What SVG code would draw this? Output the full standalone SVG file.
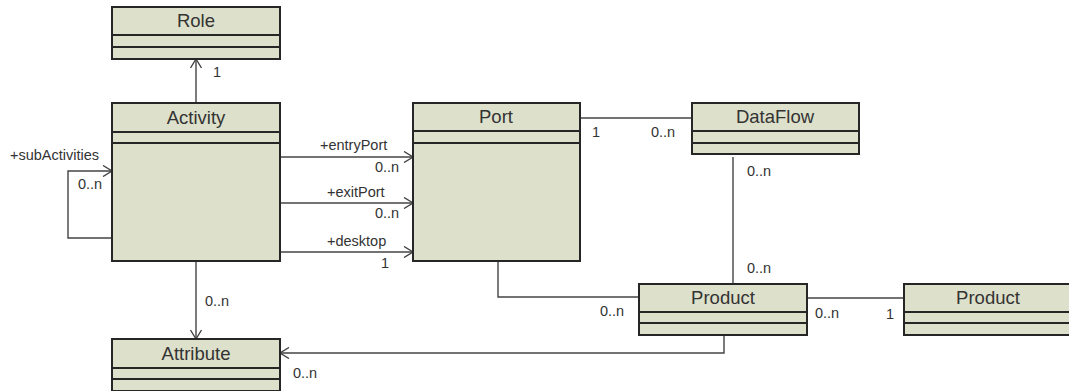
<svg xmlns="http://www.w3.org/2000/svg" width="1069" height="391" viewBox="0 0 1069 391">
<style>
.box{fill:#dde0ca;stroke:#262626;stroke-width:2}
.sep{stroke:#262626;stroke-width:2}
.title{font-family:"Liberation Sans",Arial,sans-serif;font-size:18.5px;fill:#333;text-anchor:middle}
.lbl{font-family:"Liberation Sans",Arial,sans-serif;font-size:14.5px;fill:#333}
.con{fill:none;stroke:#444;stroke-width:1.4}
</style>
<defs>
<marker id="open" markerUnits="userSpaceOnUse" markerWidth="12" markerHeight="12" viewBox="-10 -6 12 12" refX="0" refY="0" orient="auto">
<path d="M -9 -5.5 L 0 0 L -9 5.5" fill="none" stroke="#444" stroke-width="1.4"/>
</marker>
</defs>
<rect width="1069" height="391" fill="#fff"/>
<g id="connectors">
<path class="con" d="M196 103 V59" marker-end="url(#open)"/>
<text class="lbl" x="213" y="77">1</text>
<path class="con" d="M112 238 H68 V171 H112" marker-end="url(#open)"/>
<text class="lbl" x="10" y="160">+subActivities</text>
<text class="lbl" x="78" y="189">0..n</text>
<path class="con" d="M280 157 H413" marker-end="url(#open)"/>
<text class="lbl" x="320" y="150">+entryPort</text>
<text class="lbl" x="375" y="172">0..n</text>
<path class="con" d="M280 203 H413" marker-end="url(#open)"/>
<text class="lbl" x="327" y="197">+exitPort</text>
<text class="lbl" x="375" y="218">0..n</text>
<path class="con" d="M280 252 H413" marker-end="url(#open)"/>
<text class="lbl" x="327" y="246">+desktop</text>
<text class="lbl" x="381" y="268">1</text>
<path class="con" d="M580 118 H692"/>
<text class="lbl" x="592" y="137">1</text>
<text class="lbl" x="651" y="137">0..n</text>
<path class="con" d="M733 157 V284"/>
<text class="lbl" x="747" y="176">0..n</text>
<text class="lbl" x="747" y="273">0..n</text>
<path class="con" d="M498 261 V297 H639"/>
<text class="lbl" x="600" y="316">0..n</text>
<path class="con" d="M807 298 H904"/>
<text class="lbl" x="815" y="318">0..n</text>
<text class="lbl" x="886" y="319">1</text>
<path class="con" d="M724 335 V353 H280" marker-end="url(#open)"/>
<text class="lbl" x="293" y="378">0..n</text>
<path class="con" d="M196 261 V339" marker-end="url(#open)"/>
<text class="lbl" x="205" y="306">0..n</text>
</g>
<g id="Role">
<rect class="box" x="112" y="7" width="168" height="52"/>
<line class="sep" x1="112" y1="35" x2="280" y2="35"/>
<line class="sep" x1="112" y1="47" x2="280" y2="47"/>
<text class="title" x="196" y="27">Role</text>
</g>
<g id="Activity">
<rect class="box" x="112" y="103" width="168" height="158"/>
<line class="sep" x1="112" y1="132" x2="280" y2="132"/>
<line class="sep" x1="112" y1="143" x2="280" y2="143"/>
<text class="title" x="196" y="124">Activity</text>
</g>
<g id="Port">
<rect class="box" x="413" y="103" width="167" height="158"/>
<line class="sep" x1="413" y1="131" x2="580" y2="131"/>
<line class="sep" x1="413" y1="143" x2="580" y2="143"/>
<text class="title" x="496" y="123">Port</text>
</g>
<g id="DataFlow">
<rect class="box" x="692" y="103" width="167" height="51"/>
<line class="sep" x1="692" y1="131" x2="859" y2="131"/>
<line class="sep" x1="692" y1="143" x2="859" y2="143"/>
<text class="title" x="775" y="123">DataFlow</text>
</g>
<g id="Product1">
<rect class="box" x="639" y="284" width="168" height="51"/>
<line class="sep" x1="639" y1="312" x2="807" y2="312"/>
<line class="sep" x1="639" y1="323" x2="807" y2="323"/>
<text class="title" x="723" y="304">Product</text>
</g>
<g id="Product2">
<rect class="box" x="904" y="284" width="168" height="51"/>
<line class="sep" x1="904" y1="312" x2="1072" y2="312"/>
<line class="sep" x1="904" y1="323" x2="1072" y2="323"/>
<text class="title" x="988" y="304">Product</text>
</g>
<g id="Attribute">
<rect class="box" x="112" y="339" width="168" height="52"/>
<line class="sep" x1="112" y1="368" x2="280" y2="368"/>
<line class="sep" x1="112" y1="379" x2="280" y2="379"/>
<text class="title" x="196" y="360">Attribute</text>
</g>
</svg>
